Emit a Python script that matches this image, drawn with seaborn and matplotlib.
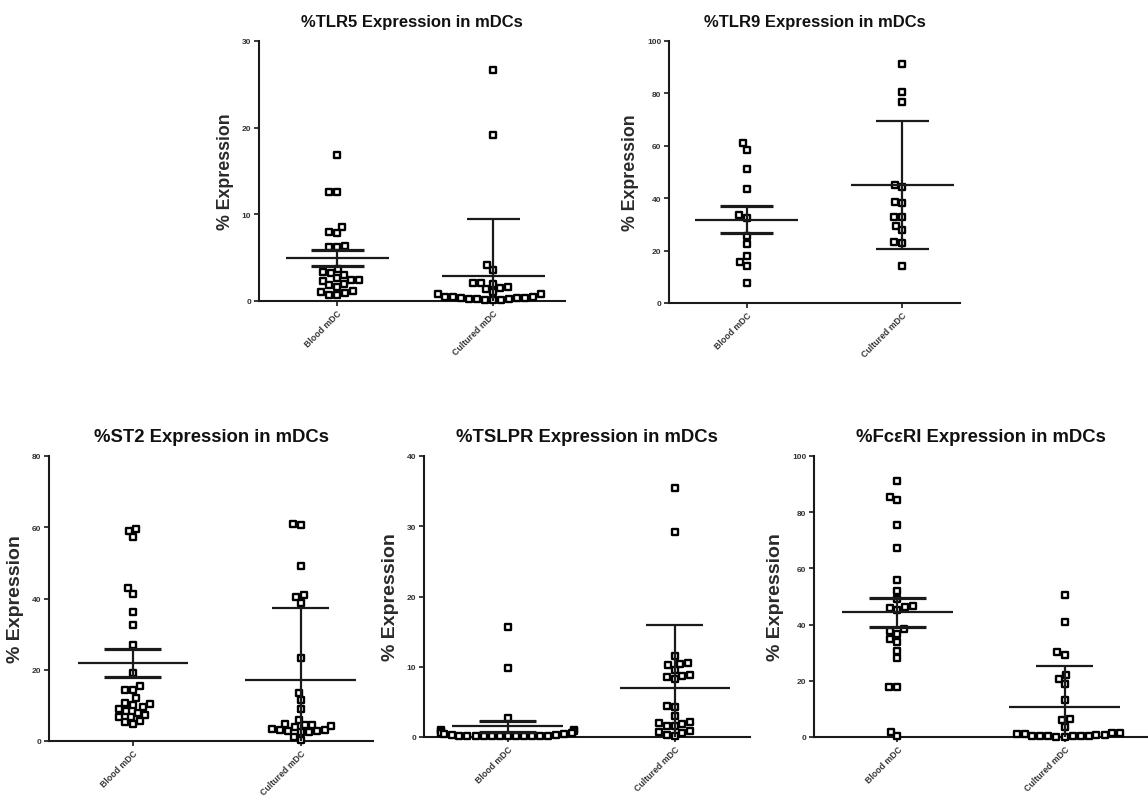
import matplotlib
matplotlib.use("Agg")
import matplotlib.pyplot as plt
import seaborn as sns
import pandas as pd

# ---------------- data ----------------
categories = ["Blood mDC", "Cultured mDC"]

titles = ["%TLR5 Expression in mDCs", "%TLR9 Expression in mDCs",
          "%ST2 Expression in mDCs", "%TSLPR Expression in mDCs",
          "%FcεRI Expression in mDCs"]

tlr5_blood = [16.9, 12.6, 12.6, 8.5, 8.0, 7.8, 6.3, 6.2, 6.2, 3.7, 3.2, 3.0, 3.3,
              2.6, 2.4, 2.4, 2.3, 2.0, 1.8, 1.6, 1.1, 1.0, 0.9, 0.7, 0.7]
tlr5_cultured = [26.7, 19.2, 4.2, 3.6, 2.1, 2.0, 2.1, 1.6, 1.5, 1.4, 1.0, 0.8, 0.5,
                 0.5, 0.4, 0.3, 0.2, 0.2, 0.1, 0.1, 0.1, 0.2, 0.3, 0.5, 0.8]
tlr5_mean = [5.0, 2.9]
tlr5_lo = [4.0, -3.7]
tlr5_hi = [5.9, 9.5]

tlr9_blood = [60.9, 58.3, 51.0, 43.6, 33.6, 32.5, 25.5, 22.5, 18.1, 15.8, 14.0, 7.6]
tlr9_cultured = [91.1, 80.5, 76.8, 45.0, 44.1, 38.5, 38.0, 33.0, 32.8, 29.5, 28.0,
                 23.2, 22.8, 14.0]
tlr9_mean = [31.8, 45.2]
tlr9_lo = [26.6, 20.8]
tlr9_hi = [37.1, 69.4]

st2_blood = [59.5, 59.0, 57.2, 42.9, 41.3, 36.3, 32.7, 27.0, 19.2, 15.4, 14.4, 14.3,
             12.0, 10.8, 10.5, 10.0, 9.6, 9.0, 8.5, 8.0, 7.2, 6.8, 6.6, 5.5, 5.2, 4.7]
st2_cultured = [61.0, 60.6, 49.2, 41.0, 40.4, 38.6, 23.4, 13.6, 11.5, 9.0, 6.0, 4.6,
                4.4, 4.0, 3.5, 3.0, 2.8, 2.5, 2.5, 2.7, 3.0, 4.3, 4.7, 1.2, 0.3]
st2_mean = [21.8, 17.2]
st2_lo = [18.1, -3.0]
st2_hi = [25.9, 37.4]

tslpr_blood = [15.6, 9.8, 2.7, 1.0, 1.0, 0.9, 0.8, 0.5, 0.4, 0.3, 0.2, 0.1, 0.1,
               0.1, 0.1, 0.1, 0.1, 0.1, 0.1, 0.1, 0.1, 0.2, 0.3, 0.4, 0.5]
tslpr_cultured = [35.5, 29.2, 11.6, 10.5, 10.4, 10.2, 9.6, 8.8, 8.7, 8.5, 8.2, 4.4,
                  4.2, 3.0, 2.0, 1.8, 1.6, 1.5, 2.1, 0.8, 0.7, 0.6, 0.3, 0.2]
tslpr_mean = [1.5, 7.0]
tslpr_lo = [0.7, -2.0]
tslpr_hi = [2.3, 16.0]

fceri_blood = [91.0, 85.5, 84.4, 75.6, 67.3, 56.0, 51.8, 49.0, 46.5, 46.2, 46.0,
               45.3, 38.4, 37.8, 36.8, 34.9, 33.8, 30.7, 28.0, 17.8, 17.7, 1.9, 0.3]
fceri_cultured = [50.5, 41.0, 30.4, 29.2, 22.0, 20.8, 18.8, 13.3, 6.3, 6.2, 3.6, 1.3,
                  1.2, 1.0, 0.8, 0.4, 0.3, 0.2, 0.1, 0.1, 0.2, 0.3, 0.5, 0.8, 1.3]
fceri_mean = [44.4, 10.8]
fceri_lo = [39.2, -3.8]
fceri_hi = [49.5, 25.4]

tlr5_ticks = [0, 10, 20, 30]
tlr9_ticks = [0, 20, 40, 60, 80, 100]
st2_ticks = [0, 20, 40, 60, 80]
tslpr_ticks = [0, 10, 20, 30, 40]
fceri_ticks = [0, 20, 40, 60, 80, 100]

# ---------------- style ----------------
sns.set_theme(style="ticks")
plt.rcParams["font.family"] = ["Liberation Sans", "DejaVu Sans"]

W, H = 1148, 804
fig = plt.figure(figsize=(W / 100, H / 100), dpi=100)


def box(left, right, top, bottom):
    return [left / W, (H - bottom) / H, (right - left) / W, (bottom - top) / H]


panels = [
    (tlr5_blood, tlr5_cultured, tlr5_mean, tlr5_lo, tlr5_hi, tlr5_ticks,
     box(259, 565, 42, 302), 1.46, 12.0, 12.8),
    (tlr9_blood, tlr9_cultured, tlr9_mean, tlr9_lo, tlr9_hi, tlr9_ticks,
     box(669, 960, 42, 304), 1.37, 12.0, 12.8),
    (st2_blood, st2_cultured, st2_mean, st2_lo, st2_hi, st2_ticks,
     box(49, 373, 457, 742), 1.43, 13.3, 14.0),
    (tslpr_blood, tslpr_cultured, tslpr_mean, tslpr_lo, tslpr_hi, tslpr_ticks,
     box(424, 750, 457, 738), 1.45, 13.3, 14.0),
    (fceri_blood, fceri_cultured, fceri_mean, fceri_lo, fceri_hi, fceri_ticks,
     box(814, 1148, 457, 738), 1.50, 13.3, 14.0),
]

ink = "#1a1a1a"
for i, (blood, cult, mean, lo, hi, ticks, pos, xr, tsize, lsize) in enumerate(panels):
    ax = fig.add_axes(pos)
    df = pd.DataFrame({
        "group": [categories[0]] * len(blood) + [categories[1]] * len(cult),
        "value": list(blood) + list(cult),
    })
    ax.set_xlim(-0.5, xr)
    ax.set_ylim(ticks[0], ticks[-1])
    sns.swarmplot(data=df, x="group", y="value", order=categories, ax=ax,
                  marker="s", size=3.8, color="white", edgecolor="black",
                  linewidth=1.7, zorder=3)
    for c in ax.collections:
        c.set_clip_on(False)
    ax.set_xlim(-0.5, xr)
    ax.set_ylim(ticks[0], ticks[-1])
    # mean lines and error bars
    for k in range(2):
        cap_lw = 2.3 if k == 0 else 1.6
        ax.hlines(mean[k], k - 0.33, k + 0.33, color=ink, lw=1.6, zorder=4)
        ax.vlines(k, lo[k], hi[k], color=ink, lw=1.6, zorder=4)
        ax.hlines([lo[k], hi[k]], k - 0.17, k + 0.17, color=ink, lw=cap_lw, zorder=4)

    ax.set_yticks(ticks)
    ax.set_yticklabels([str(t) for t in ticks], fontsize=6, fontweight="bold",
                       color="#333333")
    ax.set_xticks([0, 1])
    ax.set_xticklabels(categories, rotation=45, ha="right", rotation_mode="anchor",
                       fontsize=6.3, fontweight="bold", color="#333333")
    ax.tick_params(axis="both", direction="out", length=3.5, width=1.2,
                   color=ink, pad=2)
    ax.set_xlabel("")
    ax.set_ylabel("% Expression", fontsize=lsize, fontweight="bold", color="#2a2a2a",
                  labelpad=6)
    ax.set_title(titles[i], fontsize=tsize, fontweight="bold", color="#111111", pad=11)
    sns.despine(ax=ax)
    for s in ("left", "bottom"):
        ax.spines[s].set_linewidth(1.5)
        ax.spines[s].set_color(ink)

fig.savefig("out.png", dpi=100, facecolor="white")
